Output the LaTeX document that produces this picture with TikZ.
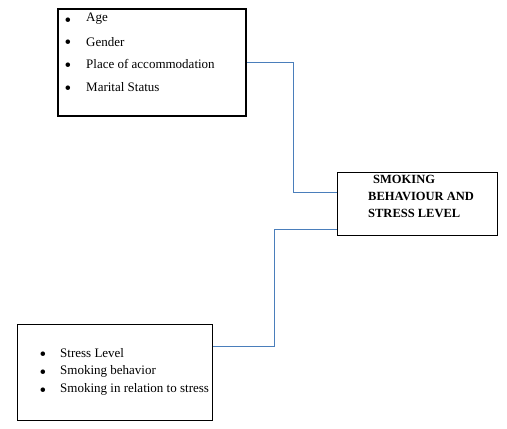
\documentclass[tikz,border=0pt]{standalone}
\usepackage{fontspec}
\setmainfont{Liberation Serif}
\definecolor{linkblue}{HTML}{4A7EBB}
\usepackage{tikz}
\usetikzlibrary{positioning}

\begin{document}
\begin{tikzpicture}[x=1pt, y=-1pt,
    box/.style={rectangle, draw=black, fill=white, anchor=north west, inner sep=0pt},
    item/.style={anchor=west, inner sep=0pt, font=\fontsize{13}{15}\selectfont},
    dot/.style={inner sep=0pt, font=\fontsize{19}{19}\selectfont},
    link/.style={draw=linkblue, line width=0.8pt},
]
    \useasboundingbox (0,0) rectangle (507,429);

    % boxes
    \node[box, line width=2pt, minimum width=188pt, minimum height=107pt] (factors) at (57,8) {};
    \node[box, line width=1.2pt, minimum width=160pt, minimum height=63pt] (outcome) at (337,172) {};
    \node[box, line width=1.2pt, minimum width=195pt, minimum height=96pt] (causes) at (17,324) {};

    % top list
    \foreach \txt [count=\i] in {Age, Gender, Place of accommodation, Marital Status} {
        \node[dot] (fb\i) at (68, {22+22.7*(\i-1)}) {\textbullet};
        \node[item] (f\i) at (86, {19+22.7*(\i-1)}) {\txt};
    }

    % bottom list
    \foreach \txt [count=\i] in {Stress Level, Smoking behavior, Smoking in relation to stress} {
        \node[dot] (cb\i) at (43, {356.5+18*(\i-1)}) {\textbullet};
        \node[item] (c\i) at (60, {353+18*(\i-1)}) {\txt};
    }

    % middle label
    \node[anchor=west, inner sep=0pt, align=left, font=\fontsize{12.5}{17}\selectfont\bfseries] (title) at (368,196) {\hspace*{5pt}SMOKING\\BEHAVIOUR AND\\STRESS LEVEL};

    % connectors
    \draw[link] (factors.east) -- ++(46,0) |- ([yshift=11.5pt]outcome.west);
    \draw[link] ([yshift=-25.5pt]outcome.west) -- ++(-63,0) |- ([yshift=26pt]causes.east);
\end{tikzpicture}
\end{document}
